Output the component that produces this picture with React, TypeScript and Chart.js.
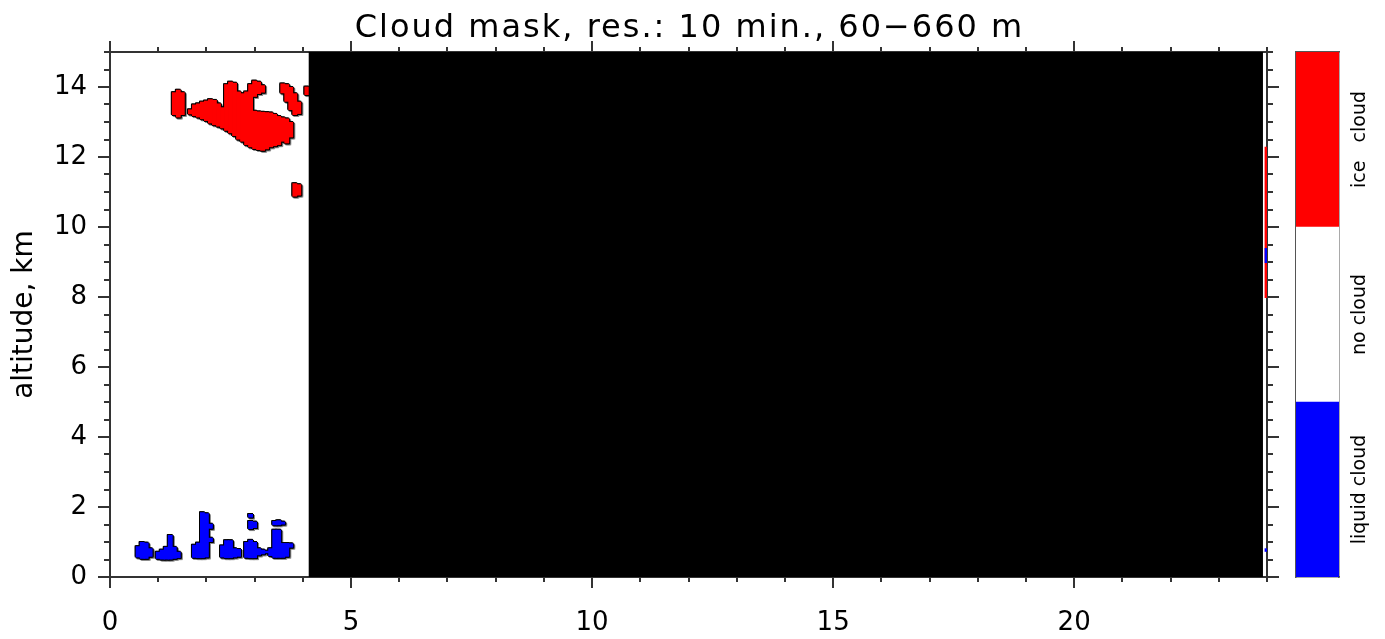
import { useEffect, useRef } from 'react';
import { Chart, registerables } from 'chart.js';

Chart.register(...registerables);

// ---------- data ----------
const chartTitle = 'Cloud mask, res.: 10 min., 60\u2212660 m';
const yAxisTitle = 'altitude, km';
const altitudeRange = [0, 15]; // km
const dayRangeHours = [0, 24];
const xTickValues = [0, 5, 10, 15, 20];
const yTickValues = [0, 2, 4, 6, 8, 10, 12, 14];

// period without data (minutes of day)
const noDataWindow = [247, 1435];

// [time bin centre (min), cloud base (km), cloud top (km)]
const iceCloudBins: [number, number, number][] = [
  [80, 13.2, 13.85], [85, 13.13, 13.92], [90, 13.2, 13.85],
  [100, 13.22, 13.36], [105, 13.17, 13.5], [110, 13.13, 13.53], [115, 13.08, 13.58],
  [120, 13.03, 13.61], [125, 12.96, 13.65], [130, 12.91, 13.63], [135, 12.87, 13.53],
  [140, 12.82, 13.42], [145, 12.75, 14.08], [150, 12.68, 14.15], [155, 12.6, 14.12],
  [160, 12.5, 13.87], [165, 12.44, 13.82], [170, 12.34, 13.87], [175, 12.28, 14.08],
  [180, 12.23, 13.32], [180, 13.72, 14.18], [185, 12.2, 13.3], [185, 13.8, 14.15],
  [190, 12.18, 13.29], [190, 13.84, 14.05], [195, 12.22, 13.28], [200, 12.28, 13.27],
  [205, 12.31, 13.23], [210, 12.34, 13.17], [215, 12.44, 13.13], [215, 13.82, 14.1],
  [220, 12.39, 13.1], [220, 13.58, 14.08], [225, 12.56, 13.0], [225, 13.34, 14.0],
  [230, 13.2, 13.82], [230, 10.87, 11.25], [235, 13.23, 13.58], [235, 10.9, 11.22],
  [245, 13.77, 14.01],
];

const liquidCloudBins: [number, number, number][] = [
  [35, 0.56, 0.88], [40, 0.52, 1.0], [45, 0.52, 0.98], [50, 0.58, 0.82],
  [60, 0.52, 0.72], [65, 0.5, 0.78], [70, 0.5, 0.86], [75, 0.5, 1.2], [80, 0.52, 0.86], [85, 0.54, 0.72],
  [105, 0.55, 0.92], [110, 0.54, 0.98], [115, 0.54, 1.85], [120, 0.56, 1.82],
  [125, 1.0, 1.12], [125, 1.38, 1.52],
  [140, 0.56, 0.9], [145, 0.54, 1.05], [150, 0.54, 1.05], [155, 0.56, 0.82], [160, 0.58, 0.8],
  [170, 0.55, 1.0], [175, 0.54, 1.06], [175, 1.37, 1.6], [175, 1.7, 1.8],
  [180, 0.54, 1.0], [180, 1.4, 1.58], [185, 0.62, 0.82], [190, 0.65, 0.78], [195, 0.68, 0.75],
  [200, 0.6, 0.82], [205, 0.55, 1.35], [205, 1.48, 1.6], [210, 0.55, 1.35], [210, 1.48, 1.62],
  [215, 0.55, 0.97], [215, 1.5, 1.58], [220, 0.58, 0.97], [225, 0.84, 0.96],
];

const edgeIceBins: [number, number, number][] = [[1440, 7.97, 12.29]];
const edgeLiquidBins: [number, number, number][] = [[1440, 8.97, 9.4], [1440, 0.72, 0.82]];

const maskClasses = ['liquid cloud', 'no cloud', 'ice   cloud'];

// ---------- styles ----------
const maskColors = ['#0000ff', '#ffffff', '#ff0000'];
const axisColor = '#333333';
const FONT = '"DejaVu Sans", "Noto Sans", sans-serif';

const toBars = (bins: [number, number, number][]) =>
  bins.map(([t, lo, hi]) => ({ x: t / 60, y: [lo, hi] }));

const barCommon = {
  type: 'bar' as const,
  xAxisID: 'x',
  yAxisID: 'y',
  barPercentage: 1.2,
  categoryPercentage: 1,
  grouped: false,
  borderWidth: 0,
  clip: 0,
};

const outlinePlugin = {
  id: 'cloudOutline',
  beforeDatasetDraw(chart: any, args: any) {
    const ds = chart.data.datasets[args.index];
    if (!ds.outlineOffsets) return;
    const ctx = chart.ctx as CanvasRenderingContext2D;
    const a = chart.chartArea;
    ctx.save();
    ctx.beginPath();
    ctx.rect(a.left, a.top, a.right - a.left, a.bottom - a.top);
    ctx.clip();
    for (const [dx, dy] of ds.outlineOffsets) {
      ctx.save();
      ctx.translate(dx, dy);
      args.meta.data.forEach((el: any) => el.draw(ctx));
      ctx.restore();
    }
    ctx.restore();
    return false;
  },
};

const titlePlugin = {
  id: 'spacedTitle',
  afterDraw(chart: any) {
    const ctx = chart.ctx as any;
    const a = chart.chartArea;
    ctx.save();
    ctx.font = `32px ${FONT}`;
    ctx.letterSpacing = '2px';
    ctx.fillStyle = '#000';
    ctx.textAlign = 'center';
    ctx.textBaseline = 'alphabetic';
    ctx.fillText(chartTitle, (a.left + a.right) / 2 + 1, 37);
    ctx.restore();
  },
};

const tickGrid = (len: number) => ({
  display: true,
  drawOnChartArea: false,
  drawTicks: true,
  tickLength: len,
  color: axisColor,
  lineWidth: 2,
  offset: false,
});

function mainConfig(): any {
  const allBins = [...iceCloudBins, ...liquidCloudBins];
  const majorX = (s: any) => { s.ticks = xTickValues.map((v) => ({ value: v })); };
  const majorY = (s: any) => { s.ticks = yTickValues.map((v) => ({ value: v })); };
  const tickFont = { family: FONT, size: 26 };
  return {
    type: 'bar',
    data: {
      datasets: [
        {
          type: 'line',
          label: 'no data',
          xAxisID: 'x',
          yAxisID: 'y',
          data: noDataWindow.map((t) => ({ x: t / 60, y: altitudeRange[1] })),
          fill: 'origin',
          backgroundColor: '#000000',
          borderWidth: 0,
          pointRadius: 0,
          tension: 0,
          order: 0,
          clip: 0,
        },
        { ...barCommon, label: 'edge liquid', data: toBars(edgeLiquidBins), backgroundColor: maskColors[0], order: 1 },
        { ...barCommon, label: 'edge ice', data: toBars(edgeIceBins), backgroundColor: maskColors[2], order: 2 },
        { ...barCommon, label: 'liquid cloud', data: toBars(liquidCloudBins), backgroundColor: maskColors[0], order: 3 },
        { ...barCommon, label: 'ice cloud', data: toBars(iceCloudBins), backgroundColor: maskColors[2], order: 3 },
        {
          ...barCommon, label: 'outline', data: toBars(allBins), backgroundColor: '#000000', order: 4,
          outlineOffsets: [[-1, 0], [1, 0], [0, -1], [0, 1], [-1, -1], [1, 1]],
        },
        {
          ...barCommon, label: 'shadow', data: toBars(allBins), backgroundColor: '#8a8a8a', order: 5,
          outlineOffsets: [[2, 1], [1, 2], [2, 2]],
        },
      ],
    },
    options: {
      animation: false,
      responsive: false,
      events: [],
      layout: { padding: 0 },
      plugins: { legend: { display: false }, tooltip: { enabled: false }, title: { display: false } },
      scales: {
        x: {
          type: 'linear', position: 'bottom', min: dayRangeHours[0], max: dayRangeHours[1], offset: false, weight: 1,
          afterBuildTicks: majorX,
          afterFit: (s: any) => { s.height = 62; },
          ticks: { font: tickFont, color: '#000', padding: 20, maxRotation: 0, autoSkip: false, z: 1 },
          grid: tickGrid(11),
          border: { display: true, color: axisColor, width: 2 },
        },
        xMinor: {
          type: 'linear', position: 'bottom', min: dayRangeHours[0], max: dayRangeHours[1], offset: false, weight: 0,
          afterFit: (s: any) => { s.height = 0; },
          ticks: { display: false, stepSize: 1 },
          grid: tickGrid(5),
          border: { display: false },
        },
        xTop: {
          type: 'linear', position: 'top', min: dayRangeHours[0], max: dayRangeHours[1], offset: false, weight: 1,
          afterBuildTicks: majorX,
          afterFit: (s: any) => { s.height = 52; },
          ticks: { display: false },
          grid: tickGrid(11),
          border: { display: true, color: axisColor, width: 2 },
        },
        xTopMinor: {
          type: 'linear', position: 'top', min: dayRangeHours[0], max: dayRangeHours[1], offset: false, weight: 0,
          afterFit: (s: any) => { s.height = 0; },
          ticks: { display: false, stepSize: 1 },
          grid: tickGrid(5),
          border: { display: false },
        },
        y: {
          type: 'linear', position: 'left', min: altitudeRange[0], max: altitudeRange[1], weight: 1,
          afterBuildTicks: majorY,
          afterFit: (s: any) => { s.width = 110; },
          ticks: { font: tickFont, color: '#000', padding: 11, autoSkip: false, z: 1 },
          grid: tickGrid(12),
          border: { display: true, color: axisColor, width: 2 },
          title: { display: true, text: yAxisTitle, color: '#000', font: { family: FONT, size: 28 }, padding: { top: 8, bottom: 0 } },
        },
        yMinor: {
          type: 'linear', position: 'left', min: altitudeRange[0], max: altitudeRange[1], weight: 0,
          afterFit: (s: any) => { s.width = 0; },
          ticks: { display: false, stepSize: 0.5 },
          grid: tickGrid(6),
          border: { display: false },
        },
        yRight: {
          type: 'linear', position: 'right', min: altitudeRange[0], max: altitudeRange[1], weight: 1,
          afterBuildTicks: majorY,
          afterFit: (s: any) => { s.width = 118; },
          ticks: { display: false },
          grid: tickGrid(12),
          border: { display: true, color: axisColor, width: 2 },
        },
        yRightMinor: {
          type: 'linear', position: 'right', min: altitudeRange[0], max: altitudeRange[1], weight: 0,
          afterFit: (s: any) => { s.width = 0; },
          ticks: { display: false, stepSize: 0.5 },
          grid: tickGrid(6),
          border: { display: false },
        },
      },
    },
    plugins: [outlinePlugin, titlePlugin],
  };
}

function colorbarConfig(): any {
  const labelFontSize = 19;
  const meas = document.createElement('canvas').getContext('2d')!;
  meas.font = `${labelFontSize}px ${FONT}`;
  const widest = Math.max(...maskClasses.map((s) => meas.measureText(s).width));
  const labelCentre = 21; // px right of the bar
  const plainBorder = { display: true, color: '#555555', width: 1.5 };
  return {
    type: 'bar',
    data: {
      labels: ['mask'],
      datasets: maskClasses.map((name, i) => ({
        label: name,
        xAxisID: 'x',
        yAxisID: 'y',
        data: [1],
        backgroundColor: maskColors[i],
        borderWidth: 0,
        barPercentage: 1,
        categoryPercentage: 1,
      })),
    },
    options: {
      animation: false,
      responsive: false,
      events: [],
      layout: { padding: { left: 6, top: 52, bottom: 62, right: 0 } },
      plugins: { legend: { display: false }, tooltip: { enabled: false } },
      scales: {
        x: {
          type: 'category', position: 'bottom', stacked: true, offset: true,
          afterFit: (s: any) => { s.height = 0; },
          ticks: { display: false }, grid: { display: false, drawTicks: false }, border: plainBorder,
        },
        y: {
          type: 'linear', position: 'right', stacked: true, min: 0, max: maskClasses.length,
          afterBuildTicks: (s: any) => { s.ticks = maskClasses.map((_, i) => ({ value: i + 0.5 })); },
          afterFit: (s: any) => { s.width = 46; },
          ticks: {
            callback: (_v: any, i: number) => maskClasses[i],
            minRotation: 90, maxRotation: 90, crossAlign: 'center',
            padding: labelCentre - widest / 2, autoSkip: false,
            color: '#000', font: { family: FONT, size: labelFontSize },
          },
          grid: { display: false, drawTicks: false },
          border: plainBorder,
        },
        xTop: {
          type: 'category', position: 'top', offset: true,
          afterFit: (s: any) => { s.height = 0; },
          ticks: { display: false }, grid: { display: false, drawTicks: false }, border: plainBorder,
        },
        yLeft: {
          type: 'linear', position: 'left', min: 0, max: maskClasses.length,
          afterFit: (s: any) => { s.width = 0; },
          ticks: { display: false }, grid: { display: false, drawTicks: false }, border: plainBorder,
        },
      },
    },
  };
}

export default function App() {
  const mainRef = useRef<HTMLCanvasElement>(null);
  const barRef = useRef<HTMLCanvasElement>(null);
  useEffect(() => {
    document.body.style.margin = '0';
    const main = new Chart(mainRef.current!, mainConfig());
    const cb = new Chart(barRef.current!, colorbarConfig());
    return () => { main.destroy(); cb.destroy(); };
  }, []);
  return (
    <div style={{ position: 'relative', width: 1385, height: 639, background: '#ffffff' }}>
      <canvas ref={mainRef} width={1385} height={639}
        style={{ position: 'absolute', left: 0, top: 0, width: 1385, height: 639 }} />
      <canvas ref={barRef} width={95} height={639}
        style={{ position: 'absolute', left: 1290, top: 0, width: 95, height: 639 }} />
    </div>
  );
}
